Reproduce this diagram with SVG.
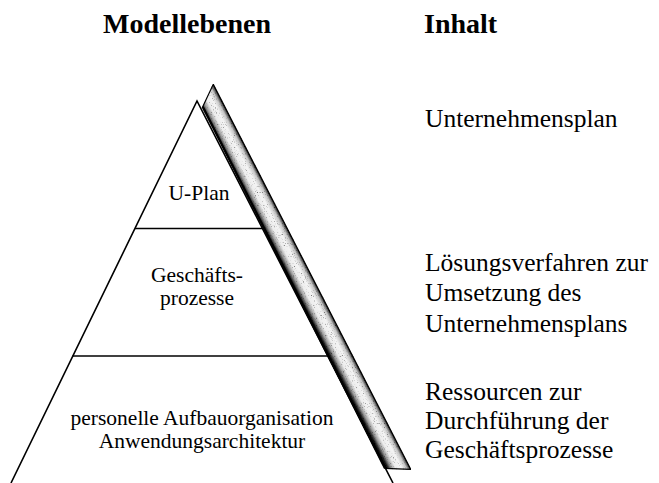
<svg xmlns="http://www.w3.org/2000/svg" width="659" height="483" viewBox="0 0 659 483">
  <style>
    .title { font-family: "Liberation Serif", "Times New Roman", serif; font-size: 28px; font-weight: bold; fill: #000; }
    .txt { font-family: "Liberation Serif", "Times New Roman", serif; font-size: 25.5px; fill: #000; }
    .lbl { font-family: "Liberation Serif", "Times New Roman", serif; font-size: 21.5px; fill: #000; text-anchor: middle; }
    .edge { stroke: #000; stroke-width: 1.6; fill: none; }
  </style>
  <defs>
    <linearGradient id="bandGrad" gradientUnits="userSpaceOnUse" x1="300" y1="300" x2="318.9" y2="290.3">
      <stop offset="0" stop-color="#000"/>
      <stop offset="0.08" stop-color="#222"/>
      <stop offset="0.22" stop-color="#9a9a9a"/>
      <stop offset="0.4" stop-color="#ededed"/>
      <stop offset="0.65" stop-color="#f4f4f4"/>
      <stop offset="0.84" stop-color="#c4c4c4"/>
      <stop offset="0.95" stop-color="#555"/>
      <stop offset="1" stop-color="#000"/>
    </linearGradient>
    <filter id="stipple" x="0" y="0" width="1" height="1">
      <feTurbulence type="fractalNoise" baseFrequency="0.9" numOctaves="2" seed="3" result="n"/>
      <feColorMatrix in="n" type="matrix" values="0 0 0 0 0  0 0 0 0 0  0 0 0 0 0  0 0 0 -3 1.2" result="dots"/>
      <feComposite in="dots" in2="SourceGraphic" operator="in" result="d2"/>
      <feMerge>
        <feMergeNode in="SourceGraphic"/>
        <feMergeNode in="d2"/>
      </feMerge>
    </filter>
  </defs>

  <g id="headers">
    <text class="title" x="103" y="33">Modellebenen</text>
    <text class="title" x="424" y="33">Inhalt</text>
  </g>

  <g id="pyramid">
    <path class="edge" d="M11,483 L197,101 L393,483"/>
  </g>

  <g id="connectors">
    <line class="edge" x1="135" y1="228.5" x2="264" y2="228.5"/>
    <line class="edge" x1="72.5" y1="356" x2="328" y2="356"/>
  </g>

  <g id="band">
    <polygon points="213.3,84.3 410.7,469.3 385,468.3 202.7,106.7" fill="url(#bandGrad)" filter="url(#stipple)" stroke="#000" stroke-width="1.2" stroke-linejoin="miter"/>
    <line x1="202.7" y1="106.7" x2="385" y2="468.3" stroke="#000" stroke-width="2.4"/>
  </g>

  <g id="level-uplan">
    <text class="lbl" x="199" y="200">U-Plan</text>
  </g>
  <g id="level-geschaeftsprozesse">
    <text class="lbl" x="197" y="282">Geschäfts-</text>
    <text class="lbl" x="197" y="305">prozesse</text>
  </g>
  <g id="level-ressourcen">
    <text class="lbl" x="202" y="425">personelle Aufbauorganisation</text>
    <text class="lbl" x="202" y="448">Anwendungsarchitektur</text>
  </g>

  <g id="content-uplan">
    <text class="txt" x="425" y="127">Unternehmensplan</text>
  </g>
  <g id="content-geschaeftsprozesse">
    <text class="txt" x="425" y="271">Lösungsverfahren zur</text>
    <text class="txt" x="425" y="301">Umsetzung des</text>
    <text class="txt" x="425" y="332">Unternehmensplans</text>
  </g>
  <g id="content-ressourcen">
    <text class="txt" x="425" y="400">Ressourcen zur</text>
    <text class="txt" x="425" y="429">Durchführung der</text>
    <text class="txt" x="425" y="458">Geschäftsprozesse</text>
  </g>
</svg>
